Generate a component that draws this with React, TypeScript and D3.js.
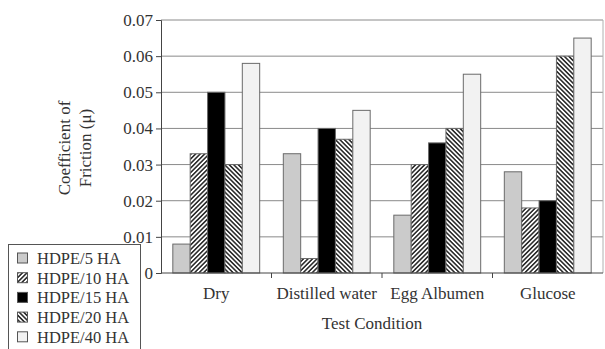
import {useEffect, useRef} from "react";
import * as d3 from "d3";

const conditions = ["Dry", "Distilled water", "Egg Albumen", "Glucose"];
const materials = ["HDPE/5 HA", "HDPE/10 HA", "HDPE/15 HA", "HDPE/20 HA", "HDPE/40 HA"];
const hdpe5 = [0.008, 0.033, 0.016, 0.028];
const hdpe10 = [0.033, 0.004, 0.030, 0.018];
const hdpe15 = [0.050, 0.040, 0.036, 0.020];
const hdpe20 = [0.030, 0.037, 0.040, 0.060];
const hdpe40 = [0.058, 0.045, 0.055, 0.065];
const yTicks = [0, 0.01, 0.02, 0.03, 0.04, 0.05, 0.06, 0.07];

const fills = ["#cbcbcb", "url(#hatchUp)", "#000000", "url(#hatchDown)", "#f2f2f2"];

export default function App() {
    const ref = useRef<SVGSVGElement>(null);

    useEffect(() => {
        const svg = d3.select(ref.current);
        svg.selectAll("*").remove();

        const width = 605, height = 349;
        const margin = {top: 20, right: 2, bottom: 76, left: 161};
        const series = [hdpe5, hdpe10, hdpe15, hdpe20, hdpe40];

        const defs = svg.append("defs");
        [["hatchUp", 45], ["hatchDown", -45]].forEach(([id, angle]) => {
            const p = defs.append("pattern")
                .attr("id", id)
                .attr("patternUnits", "userSpaceOnUse")
                .attr("width", 3.2)
                .attr("height", 3.2)
                .attr("patternTransform", `rotate(${angle})`);
            p.append("rect").attr("width", 3.2).attr("height", 3.2).attr("fill", "#fff");
            p.append("line")
                .attr("x1", 0.8).attr("y1", 0).attr("x2", 0.8).attr("y2", 3.2)
                .attr("stroke", "#111").attr("stroke-width", 1.4);
        });

        const x0 = d3.scaleBand()
            .domain(conditions)
            .range([margin.left, width - margin.right]);

        const x1 = d3.scaleBand()
            .domain(materials)
            .range([0, x0.bandwidth()])
            .paddingOuter(0.68);

        const y = d3.scaleLinear()
            .domain([0, 0.07])
            .range([height - margin.bottom, margin.top]);

        // gridlines
        svg.append("g")
            .selectAll("line")
            .data(yTicks.slice(1))
            .enter()
            .append("line")
            .attr("x1", margin.left)
            .attr("x2", width - margin.right)
            .attr("y1", d => y(d))
            .attr("y2", d => y(d))
            .attr("stroke", "#8a8a8a")
            .attr("stroke-width", 1);

        svg.append("line")
            .attr("x1", width - margin.right)
            .attr("x2", width - margin.right)
            .attr("y1", y(0.07))
            .attr("y2", y(0))
            .attr("stroke", "#b0b0b0");

        // bars
        conditions.forEach((c, ci) => {
            svg.append("g")
                .selectAll("rect")
                .data(materials)
                .enter()
                .append("rect")
                .attr("x", m => (x0(c) as number) + (x1(m) as number))
                .attr("y", (m, mi) => y(series[mi][ci]))
                .attr("width", x1.bandwidth())
                .attr("height", (m, mi) => y(0) - y(series[mi][ci]))
                .attr("fill", (m, mi) => fills[mi])
                .attr("stroke", "#6a6a6a")
                .attr("stroke-width", 1);
        });

        // y axis
        const yAxis = svg.append("g")
            .attr("transform", `translate(${margin.left},0)`)
            .call(d3.axisLeft(y).tickValues(yTicks).tickSize(5).tickPadding(3)
                .tickFormat(d => d === 0 ? "0" : d3.format(".2f")(d as number)));
        yAxis.attr("font-family", null).attr("font-size", null);
        yAxis.select(".domain").attr("stroke", "#444");
        yAxis.selectAll(".tick line").attr("stroke", "#444");
        yAxis.selectAll("text")
            .attr("class", "lbl")
            .attr("fill", "#333");

        // x axis
        svg.append("line")
            .attr("x1", margin.left)
            .attr("x2", width - margin.right)
            .attr("y1", y(0))
            .attr("y2", y(0))
            .attr("stroke", "#444");

        svg.append("g")
            .selectAll("line")
            .data(conditions.slice(1))
            .enter()
            .append("line")
            .attr("x1", d => x0(d) as number)
            .attr("x2", d => x0(d) as number)
            .attr("y1", y(0))
            .attr("y2", y(0) + 5)
            .attr("stroke", "#444");

        svg.append("g")
            .selectAll("text")
            .data(conditions)
            .enter()
            .append("text")
            .attr("class", "lbl")
            .attr("x", d => (x0(d) as number) + x0.bandwidth() / 2)
            .attr("y", 299)
            .attr("text-anchor", "middle")
            .attr("fill", "#333")
            .text(d => d);

        svg.append("text")
            .attr("class", "lbl")
            .attr("x", 372)
            .attr("y", 329)
            .attr("text-anchor", "middle")
            .attr("fill", "#333")
            .text("Test Condition");

        const yl = svg.append("text")
            .attr("class", "lbl")
            .attr("transform", "translate(70,148) rotate(-90)")
            .attr("text-anchor", "middle")
            .attr("fill", "#333");
        yl.append("tspan").attr("x", 0).attr("y", 0).text("Coefficient of");
        yl.append("tspan").attr("x", 0).attr("y", 21).text("Friction (\u03bc)");

        // legend
        const lg = svg.append("g");
        lg.append("rect")
            .attr("x", 8.5).attr("y", 244.5)
            .attr("width", 132).attr("height", 120)
            .attr("fill", "#fff")
            .attr("stroke", "#555");
        materials.forEach((m, i) => {
            const cy = 258 + i * 19.7;
            lg.append("rect")
                .attr("x", 17.5).attr("y", cy - 5)
                .attr("width", 10).attr("height", 10)
                .attr("fill", fills[i])
                .attr("stroke", "#555");
            lg.append("text")
                .attr("class", "lbl leg")
                .attr("x", 37)
                .attr("y", cy + 6)
                .attr("fill", "#333")
                .text(m);
        });
    }, []);

    return <div style={{position: "absolute", left: 0, top: 0}}>
        <style>{`.lbl { font-family: "Liberation Serif", "DejaVu Serif", serif; font-size: 17px; } .leg { font-size: 16.5px; }`}</style>
        <svg ref={ref} width={605} height={349} style={{display: "block", background: "#fff"}}></svg>
    </div>
}
